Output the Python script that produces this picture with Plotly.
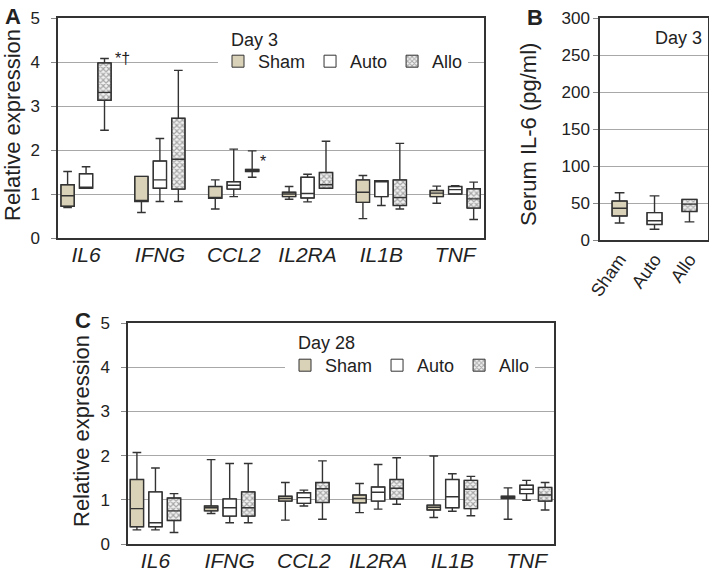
import plotly.graph_objects as go

genes = ["IL6", "IFNG", "CCL2", "IL2RA", "IL1B", "TNF"]
groups = ["Sham", "Auto", "Allo"]

# Panel A, Day 3: lower fence, q1, median, q3, upper fence per gene
d3_sham_lf = [0.69, 0.58, 0.66, 0.88, 0.44, 0.79]
d3_sham_q1 = [0.72, 0.83, 0.90, 0.94, 0.81, 0.94]
d3_sham_md = [0.96, 0.83, 0.91, 1.00, 1.04, 1.02]
d3_sham_q3 = [1.21, 1.40, 1.17, 1.04, 1.32, 1.08]
d3_sham_uf = [1.51, 1.40, 1.32, 1.17, 1.42, 1.18]

d3_auto_lf = [1.13, 0.83, 0.94, 0.82, 0.74, 1.00]
d3_auto_q1 = [1.13, 1.13, 1.11, 0.91, 0.94, 1.00]
d3_auto_md = [1.15, 1.32, 1.20, 1.01, 1.28, 1.10]
d3_auto_q3 = [1.46, 1.75, 1.28, 1.38, 1.30, 1.17]
d3_auto_uf = [1.62, 2.26, 2.02, 1.45, 1.30, 1.19]

d3_allo_lf = [2.45, 0.83, 1.38, 1.13, 0.66, 0.42]
d3_allo_q1 = [3.13, 1.11, 1.51, 1.13, 0.74, 0.68]
d3_allo_md = [3.31, 1.79, 1.53, 1.21, 0.92, 0.89]
d3_allo_q3 = [3.98, 2.72, 1.56, 1.49, 1.32, 1.12]
d3_allo_uf = [4.08, 3.81, 1.98, 2.20, 2.15, 1.27]

# Panel B, serum IL-6 Day 3 (pg/ml), order Sham, Auto, Allo
b_lf = [23.0, 14.5, 24.5]
b_q1 = [32.5, 21.0, 38.5]
b_md = [43.0, 26.0, 48.5]
b_q3 = [52.7, 37.0, 54.9]
b_uf = [63.8, 59.6, 54.9]

# Panel C, Day 28
d28_sham_lf = [0.32, 0.69, 0.54, 0.71, 0.60, 0.56]
d28_sham_q1 = [0.39, 0.75, 0.97, 0.93, 0.77, 1.03]
d28_sham_md = [0.80, 0.82, 1.03, 1.03, 0.83, 1.06]
d28_sham_q3 = [1.46, 0.86, 1.08, 1.11, 0.88, 1.08]
d28_sham_uf = [2.07, 1.91, 1.39, 1.37, 1.99, 1.27]

d28_auto_lf = [0.32, 0.48, 0.86, 0.79, 0.74, 0.99]
d28_auto_q1 = [0.39, 0.63, 0.92, 0.97, 0.82, 1.14]
d28_auto_md = [0.48, 0.82, 1.05, 1.17, 1.07, 1.24]
d28_auto_q3 = [1.18, 1.02, 1.16, 1.29, 1.46, 1.33]
d28_auto_uf = [1.72, 1.82, 1.22, 1.80, 1.59, 1.44]

d28_allo_lf = [0.26, 0.48, 0.56, 0.90, 0.64, 0.77]
d28_allo_q1 = [0.53, 0.63, 0.94, 1.02, 0.80, 0.97]
d28_allo_md = [0.75, 0.82, 1.25, 1.26, 1.24, 1.11]
d28_allo_q3 = [1.04, 1.18, 1.39, 1.46, 1.44, 1.28]
d28_allo_uf = [1.14, 1.82, 1.88, 1.95, 1.53, 1.39]

y_ticks_rel = [0, 1, 2, 3, 4, 5]
y_ticks_b = [0, 50, 100, 150, 200, 250, 300]

# ---- styles ----
FONT = "Liberation Sans, Arial, sans-serif"
TXT = "#222222"
EDGE = "#333333"
GRID = "#a8a8a8"
fills = {"Sham": "#d9d2b8", "Auto": "#ffffff", "Allo": "#eeeeee"}
offsets = {"Sham": -0.25, "Auto": 0.0, "Allo": 0.25}
W = 0.18

fig = go.Figure()


def add_group(name, lf, q1, md, q3, uf, xa, ya, xs, width, legend, showlegend):
    pattern = dict(shape="x", size=4, solidity=0.5, fgcolor="#5a5a5a",
                   bgcolor="#f2f2f2") if name == "Allo" else dict(shape="")
    fig.add_trace(go.Bar(
        x=xs, y=[b - a for a, b in zip(q1, q3)], base=q1, width=width,
        name=name, legend=legend, showlegend=showlegend,
        marker=dict(color=fills[name], pattern=pattern,
                    line=dict(color=EDGE, width=1)),
        xaxis=xa, yaxis=ya, hoverinfo="skip"))


def add_box(name, lf, q1, md, q3, uf, xa, ya, xs, width):
    fig.add_trace(go.Box(
        x=xs, lowerfence=lf, q1=q1, median=md, q3=q3, upperfence=uf,
        width=width, whiskerwidth=0.65, boxpoints=False,
        fillcolor="rgba(0,0,0,0)", line=dict(color=EDGE, width=1.4),
        showlegend=False, xaxis=xa, yaxis=ya, hoverinfo="skip"))


day3 = {
    "Sham": (d3_sham_lf, d3_sham_q1, d3_sham_md, d3_sham_q3, d3_sham_uf),
    "Auto": (d3_auto_lf, d3_auto_q1, d3_auto_md, d3_auto_q3, d3_auto_uf),
    "Allo": (d3_allo_lf, d3_allo_q1, d3_allo_md, d3_allo_q3, d3_allo_uf),
}
day28 = {
    "Sham": (d28_sham_lf, d28_sham_q1, d28_sham_md, d28_sham_q3, d28_sham_uf),
    "Auto": (d28_auto_lf, d28_auto_q1, d28_auto_md, d28_auto_q3, d28_auto_uf),
    "Allo": (d28_allo_lf, d28_allo_q1, d28_allo_md, d28_allo_q3, d28_allo_uf),
}

gx = list(range(len(genes)))
# bars (fills) first
for g in groups:
    xs = [i + offsets[g] for i in gx]
    add_group(g, *day3[g], "x", "y", xs, W, "legend", True)
    add_group(g, *day28[g], "x3", "y3", xs, W, "legend2", True)
for i, g in enumerate(groups):
    add_group(g, [b_lf[i]], [b_q1[i]], [b_md[i]], [b_q3[i]], [b_uf[i]],
              "x2", "y2", [i], 0.43, "legend", False)
# boxes on top
for g in groups:
    xs = [i + offsets[g] for i in gx]
    add_box(g, *day3[g], "x", "y", xs, W)
    add_box(g, *day28[g], "x3", "y3", xs, W)
for i, g in enumerate(groups):
    add_box(g, [b_lf[i]], [b_q1[i]], [b_md[i]], [b_q3[i]], [b_uf[i]],
            "x2", "y2", [i], 0.43)

axis_common = dict(showline=True, linecolor=EDGE, linewidth=1.5, mirror=True,
                   zeroline=False, automargin=False)
yaxis_common = dict(axis_common, showgrid=True, gridcolor=GRID, gridwidth=1,
                    ticks="outside", ticklen=5, tickcolor="#888888",
                    tickfont=dict(size=17, color=TXT, family=FONT),
                    ticklabelstandoff=8)
xaxis_common = dict(axis_common, showgrid=False, ticks="",
                    tickfont=dict(size=21, color=TXT, family=FONT, style="italic"),
                    ticklabelstandoff=-3)

W_PX, H_PX = 709, 572


def px(x):
    return x / W_PX


def py(y):
    return 1 - y / H_PX


def dx(a, b):
    return [px(a), px(b)]


def dy(top, bottom):
    return [py(bottom), py(top)]


fig.update_layout(
    width=W_PX, height=H_PX, margin=dict(l=0, r=0, t=0, b=0),
    paper_bgcolor="white", plot_bgcolor="white",
    font=dict(family=FONT, color=TXT),
    barmode="overlay", boxmode="overlay", hovermode=False,
    xaxis=dict(xaxis_common, domain=dx(58, 484), range=[-0.38, 5.39],
               tickvals=gx, ticktext=genes, anchor="y"),
    yaxis=dict(yaxis_common, domain=dy(18, 238), range=[0, 5],
               tickvals=y_ticks_rel, anchor="x"),
    xaxis2=dict(axis_common, showgrid=False, domain=dx(600, 708),
                range=[-0.56, 2.53], tickvals=[0, 1, 2], ticktext=groups,
                tickangle=-55, tickfont=dict(size=18, color=TXT, family=FONT),
                anchor="y2"),
    yaxis2=dict(yaxis_common, domain=dy(18, 240), range=[0, 300],
                tickvals=y_ticks_b, anchor="x2", ticklabelstandoff=0),
    xaxis3=dict(xaxis_common, domain=dx(128, 554), range=[-0.37, 5.37],
                tickvals=gx, ticktext=genes, anchor="y3"),
    yaxis3=dict(yaxis_common, domain=dy(323, 544), range=[0, 5],
                tickvals=y_ticks_rel, anchor="x3"),
    legend=dict(x=px(218), y=py(43), xanchor="left", yanchor="top",
                orientation="h", bgcolor="white", borderwidth=0,
                font=dict(size=18, color=TXT, family=FONT),
                itemwidth=30, tracegroupgap=0),
    legend2=dict(x=px(285), y=py(347), xanchor="left", yanchor="top",
                 orientation="h", bgcolor="white", borderwidth=0,
                 font=dict(size=18, color=TXT, family=FONT),
                 itemwidth=30, tracegroupgap=0),
)

ann = [
    dict(text="<b>A</b>", x=px(3), y=py(2), xref="paper", yref="paper",
         xanchor="left", yanchor="top", showarrow=False, font=dict(size=22)),
    dict(text="<b>B</b>", x=px(525), y=py(3), xref="paper", yref="paper",
         xanchor="left", yanchor="top", showarrow=False, font=dict(size=22)),
    dict(text="<b>C</b>", x=px(73), y=py(306), xref="paper", yref="paper",
         xanchor="left", yanchor="top", showarrow=False, font=dict(size=22)),
    dict(text="Relative expression", x=px(12), y=py(125),
         xref="paper", yref="paper", textangle=-90, showarrow=False,
         xanchor="center", yanchor="middle", font=dict(size=22)),
    dict(text="Serum IL-6 (pg/ml)", x=px(528), y=py(135),
         xref="paper", yref="paper", textangle=-90, showarrow=False,
         xanchor="center", yanchor="middle", font=dict(size=22)),
    dict(text="Relative expression", x=px(81), y=py(431),
         xref="paper", yref="paper", textangle=-90, showarrow=False,
         xanchor="center", yanchor="middle", font=dict(size=22)),
    dict(text="Day 3", x=px(229), y=py(40), xref="paper", yref="paper",
         xanchor="left", yanchor="middle", showarrow=False, font=dict(size=18)),
    dict(text="Day 28", x=px(296), y=py(343), xref="paper", yref="paper",
         xanchor="left", yanchor="middle", showarrow=False, font=dict(size=18)),
    dict(text="Day 3", x=1, y=1, xref="x2 domain", yref="y2 domain",
         xanchor="right", yanchor="top", xshift=-4, yshift=-8, showarrow=False,
         font=dict(size=18)),
    dict(text="*†", x=0.25, y=4.08, xref="x", yref="y", xanchor="left",
         yanchor="middle", xshift=8, showarrow=False,
         font=dict(size=16, color=TXT)),
    dict(text="*", x=2.25, y=1.98, xref="x", yref="y", xanchor="left",
         yanchor="top", xshift=6, showarrow=False, font=dict(size=16, color=TXT)),
]
fig.update_layout(annotations=ann)

# remove the browser's default 8px page margin so the figure fills the window
fig.write_html("out.html",
               config={"displayModeBar": False},
               post_script="document.body.style.margin='0px';")
